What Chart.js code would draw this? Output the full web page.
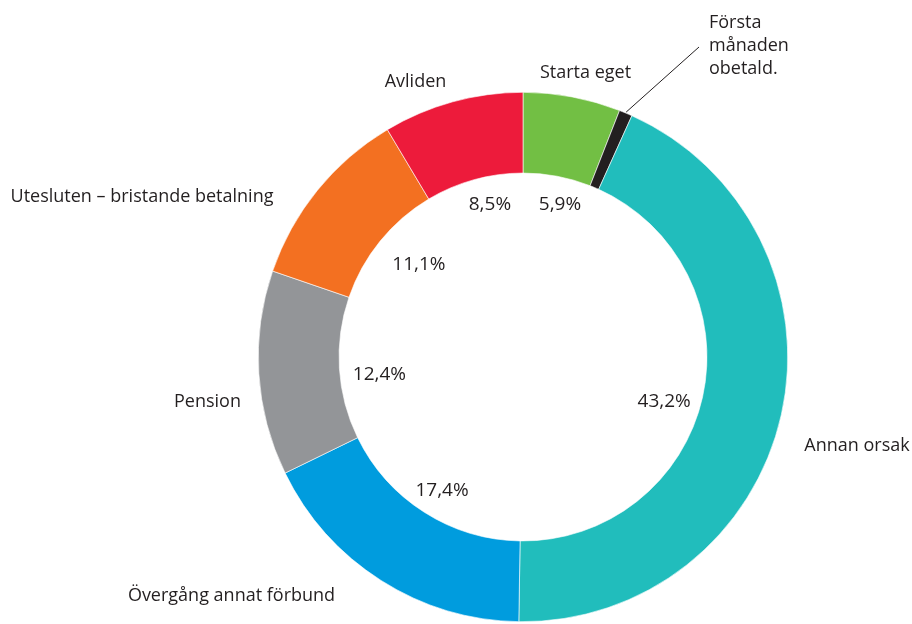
<!DOCTYPE html>
<html>
<head>
<meta charset="utf-8">
<script src="https://cdn.jsdelivr.net/npm/chart.js@4/dist/chart.umd.min.js"></script>
<style>
html,body{margin:0;padding:0;background:#fff;}
#wrap{position:relative;width:912px;height:624px;}
</style>
</head>
<body>
<div id="wrap"><canvas id="c" width="912" height="624"></canvas></div>
<script>
// ---- data ----
const categories = ['Starta eget', 'Första månaden obetald.', 'Annan orsak', 'Övergång annat förbund', 'Pension', 'Utesluten – bristande betalning', 'Avliden'];
const values = [5.9, 0.8, 43.2, 17.4, 12.4, 11.1, 8.5];
const showPercent = [true, false, true, true, true, true, true];
const outerLabelLines = [['Starta eget'], ['Första', 'månaden', 'obetald.'], ['Annan orsak'], ['Övergång annat förbund'], ['Pension'], ['Utesluten – bristande betalning'], ['Avliden']];

// ---- styling / layout ----
const colors = ['#72BF44', '#231F20', '#21BDBC', '#009CDE', '#939598', '#F37021', '#ED1B3B'];
const FONT_OUT = '18px "Open Sans", "Noto Sans", sans-serif';
const FONT_PCT = '19px "Open Sans", "Noto Sans", sans-serif';
const TEXT = '#231F20';
// outer label anchors (baseline) relative to doughnut centre
const outerLayout = [
  {dx: 62.5, dy: -279, align: 'center'},
  {dx: 186, dy: -329, align: 'left', lh: 23, leader: {dx: 176, dy: -310}},
  {dx: 334, dy: 94, align: 'center'},
  {dx: -291.5, dy: 244, align: 'center'},
  {dx: -315.5, dy: 50, align: 'center'},
  {dx: -381, dy: -155, align: 'center'},
  {dx: -107.5, dy: -270, align: 'center'}
];
// fine adjustment of percent labels from their mid-angle position
const pctAdjust = [
  {dx: 9, dy: -4}, null, {dx: -6, dy: 12}, {dx: 0, dy: 6}, {dx: 7, dy: 8}, {dx: 13, dy: 3}, {dx: 7, dy: -7}
];

const labelPlugin = {
  id: 'labels',
  afterDatasetsDraw(chart) {
    const ctx = chart.ctx;
    const meta = chart.getDatasetMeta(0);
    ctx.save();
    ctx.fillStyle = TEXT;
    meta.data.forEach((arc, i) => {
      const p = arc.getProps(['x', 'y', 'startAngle', 'endAngle', 'innerRadius', 'outerRadius'], true);
      const mid = (p.startAngle + p.endAngle) / 2;
      if (showPercent[i]) {
        const r = p.innerRadius * 0.82;
        const a = pctAdjust[i];
        ctx.font = FONT_PCT;
        ctx.textAlign = 'center';
        ctx.textBaseline = 'middle';
        ctx.fillText(values[i].toFixed(1).replace('.', ',') + '%', p.x + Math.cos(mid) * r + a.dx, p.y + Math.sin(mid) * r + a.dy);
      }
      const L = outerLayout[i];
      ctx.font = FONT_OUT;
      ctx.textAlign = L.align;
      ctx.textBaseline = 'alphabetic';
      outerLabelLines[i].forEach((line, k) => {
        ctx.fillText(line, p.x + L.dx, p.y + L.dy + k * (L.lh || 24));
      });
      if (L.leader) {
        const r0 = p.outerRadius + 1;
        ctx.beginPath();
        ctx.strokeStyle = TEXT;
        ctx.lineWidth = 1;
        ctx.moveTo(p.x + Math.cos(mid) * r0, p.y + Math.sin(mid) * r0);
        ctx.lineTo(p.x + L.leader.dx, p.y + L.leader.dy);
        ctx.stroke();
      }
    });
    ctx.restore();
  }
};

new Chart(document.getElementById('c'), {
  type: 'doughnut',
  data: {
    labels: categories,
    datasets: [{
      data: values,
      backgroundColor: colors,
      borderColor: '#ffffff',
      borderWidth: 0.6
    }]
  },
  options: {
    responsive: false,
    animation: false,
    cutout: '69.5%',
    layout: {padding: {top: 92, bottom: 2, left: 258, right: 124}},
    plugins: {legend: {display: false}, tooltip: {enabled: false}}
  },
  plugins: [labelPlugin]
});
</script>
</body>
</html>
